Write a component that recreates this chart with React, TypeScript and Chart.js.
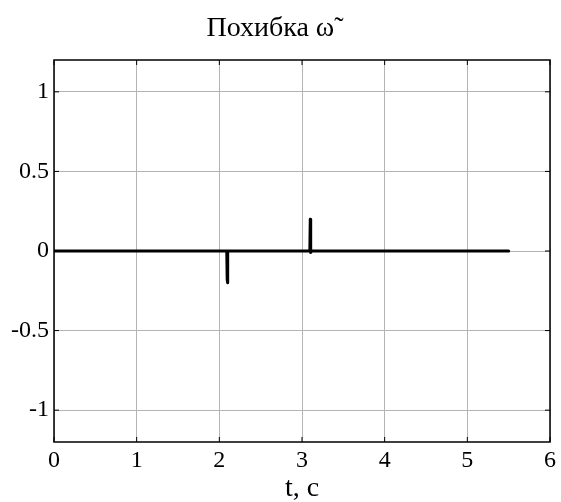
import React, { useEffect, useRef } from "react";
import { Chart, registerables } from "chart.js";

Chart.register(...registerables);

const titleText = "Похибка ω˜";
const xAxisLabel = "t, c";
const xTickValues = [0, 1, 2, 3, 4, 5, 6];
const yTickValues = [-1, -0.5, 0, 0.5, 1];
const timeValues = [0, 2.09, 2.095, 2.1, 2.102, 2.11, 3.095, 3.1, 3.102, 3.108, 3.115, 5.5];
const errorValues = [0, 0, -0.18, -0.2, 0.0, 0, 0, 0.2, 0.18, -0.01, 0, 0];

const serif = "'Liberation Serif', 'Times New Roman', serif";

const boxPlugin = {
  id: "boxPlugin",
  afterDraw(chart: any) {
    const { ctx, chartArea } = chart;
    const { left, right, top, bottom } = chartArea;
    ctx.save();
    ctx.strokeStyle = "#000";
    ctx.lineWidth = 1.5;
    ctx.strokeRect(left, top, right - left, bottom - top);
    ctx.lineWidth = 1;
    const xs = chart.scales.x;
    const ys = chart.scales.y;
    ctx.beginPath();
    xTickValues.forEach((v) => {
      const px = xs.getPixelForValue(v);
      ctx.moveTo(px, bottom);
      ctx.lineTo(px, bottom - 5);
      ctx.moveTo(px, top);
      ctx.lineTo(px, top + 5);
    });
    yTickValues.forEach((v) => {
      const py = ys.getPixelForValue(v);
      ctx.moveTo(left, py);
      ctx.lineTo(left + 5, py);
      ctx.moveTo(right, py);
      ctx.lineTo(right - 5, py);
    });
    ctx.stroke();
    ctx.restore();
  },
};

export default function App() {
  const ref = useRef<HTMLCanvasElement | null>(null);
  useEffect(() => {
    if (!ref.current) return;
    const chart = new Chart(ref.current, {
      type: "line",
      data: {
        datasets: [
          {
            data: timeValues.map((t, i) => ({ x: t, y: errorValues[i] })),
            borderColor: "#000",
            borderWidth: 3,
            borderJoinStyle: "round",
            borderCapStyle: "round",
            pointRadius: 0,
            tension: 0,
            fill: false,
          },
        ],
      },
      options: {
        responsive: false,
        animation: false,
        layout: { padding: { top: 0, right: 11, bottom: 0, left: 0 } },
        plugins: {
          legend: { display: false },
          tooltip: { enabled: false },
          title: {
            display: true,
            text: titleText,
            color: "#000",
            font: { family: serif, size: 28, weight: "normal" },
            padding: { top: 12, bottom: 14.4 },
          },
        },
        scales: {
          x: {
            type: "linear",
            min: 0,
            max: 6,
            afterBuildTicks: (s: any) => {
              s.ticks = xTickValues.map((v) => ({ value: v }));
            },
            afterFit: (s: any) => {
              s.height = 60;
            },
            grid: { color: "#b4b4b4", lineWidth: 1, drawTicks: false },
            border: { display: false },
            ticks: {
              color: "#000",
              padding: 4,
              maxRotation: 0,
              font: { family: serif, size: 24 },
              callback: (v: any) => String(v),
            },
            title: {
              display: true,
              text: xAxisLabel,
              color: "#000",
              font: { family: serif, size: 28 },
              padding: { top: 0, bottom: -3 },
            },
          },
          y: {
            type: "linear",
            min: -1.2,
            max: 1.2,
            afterBuildTicks: (s: any) => {
              s.ticks = yTickValues.map((v) => ({ value: v }));
            },
            afterFit: (s: any) => {
              s.width = 54;
            },
            grid: { color: "#b4b4b4", lineWidth: 1, drawTicks: false },
            border: { display: false },
            ticks: {
              color: "#000",
              padding: 5,
              font: { family: serif, size: 24 },
              callback: (v: any) => String(v),
            },
          },
        },
      },
      plugins: [boxPlugin],
    });
    return () => chart.destroy();
  }, []);
  return (
    <div style={{ position: "fixed", left: 0, top: 0, width: 561, height: 502, background: "#fff" }}>
      <canvas ref={ref} width={561} height={502} />
    </div>
  );
}
